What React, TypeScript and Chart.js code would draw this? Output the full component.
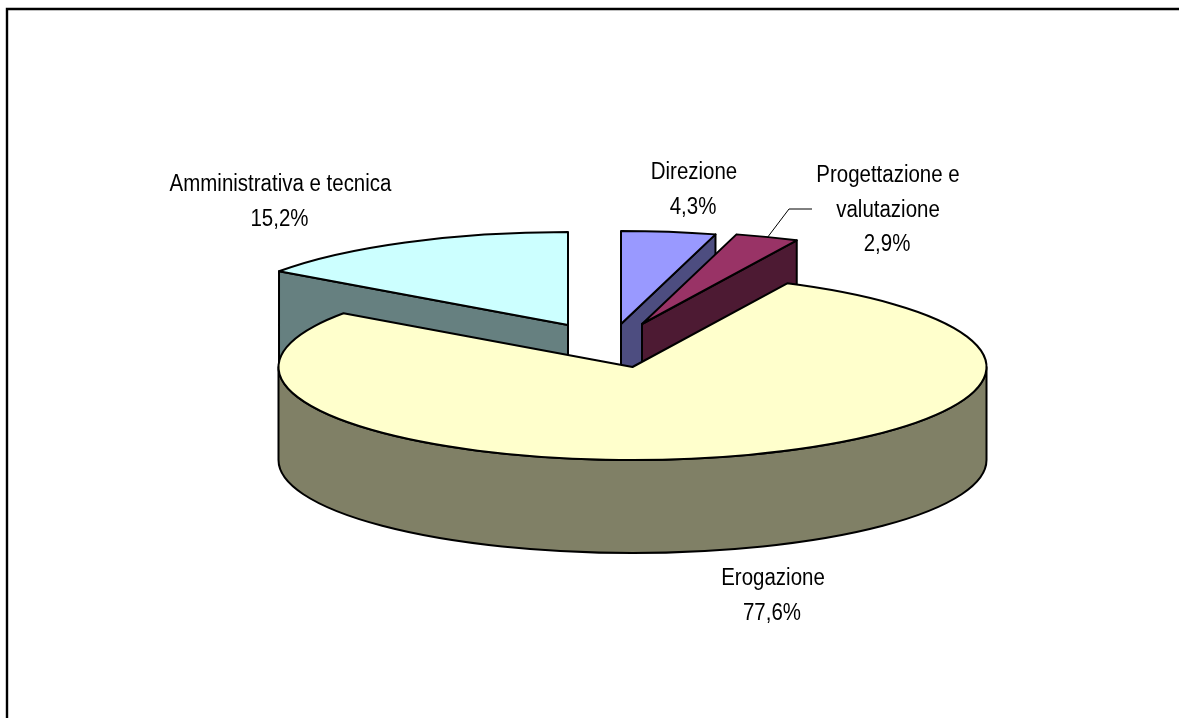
import React, { useEffect, useRef } from "react";
import Chart from "chart.js/auto";

const categories = ["Direzione", "Progettazione e valutazione", "Erogazione", "Amministrativa e tecnica"];
const shares = [4.3, 2.9, 77.6, 15.2];
const percentLabels = ["4,3%", "2,9%", "77,6%", "15,2%"];
const topColors = ["#9999FF", "#993366", "#FFFFCC", "#CCFFFF"];
const wallColors = ["#4D4D80", "#4D1A33", "#808066", "#668080"];

const labelLines = [["Direzione"], ["Progettazione e", "valutazione"], ["Erogazione"], ["Amministrativa e tecnica"]];
const labelAnchors = [[694, 179, 35], [888, 182, 34.5], [773, 585, 35], [280.5, 191, 35]];
const explodeShift = [[-11.5, -43], [9.5, -43], [0, 0], [-64.5, -42]];
const drawOrder = [3, 0, 1, 2];
const tilt = 93 / 354;
const depth = 93;
const leader = [[767, 238], [789, 209], [812, 209]];
const textSqueeze = 0.89;

const pie3d = {
  id: "pie3d",
  beforeDatasetsDraw(chart: any) {
    const ctx = chart.ctx;
    const arcs = chart.getDatasetMeta(0).data;
    ctx.save();
    ctx.lineWidth = 2;
    ctx.lineJoin = "round";
    ctx.strokeStyle = "#000";
    for (const i of drawOrder) {
      const arc = arcs[i];
      const r = arc.outerRadius;
      const ry = r * tilt;
      const cx = arc.x + explodeShift[i][0];
      const cy = arc.y + explodeShift[i][1];
      const s = arc.startAngle;
      const e = arc.endAngle;
      const pt = (a: number) => [cx + r * Math.cos(a), cy + ry * Math.sin(a)];
      const face = (a: number) => {
        const p = pt(a);
        ctx.beginPath();
        ctx.moveTo(cx, cy);
        ctx.lineTo(p[0], p[1]);
        ctx.lineTo(p[0], p[1] + depth);
        ctx.lineTo(cx, cy + depth);
        ctx.closePath();
        ctx.fillStyle = wallColors[i];
        ctx.fill();
        ctx.stroke();
      };
      if (Math.cos(s) < -1e-6) face(s);
      if (Math.cos(e) > 1e-6) face(e);
      const w0 = Math.max(s, 0);
      const w1 = Math.min(e, Math.PI);
      if (w1 > w0) {
        ctx.beginPath();
        ctx.ellipse(cx, cy, r, ry, 0, w0, w1);
        ctx.ellipse(cx, cy + depth, r, ry, 0, w1, w0, true);
        ctx.closePath();
        ctx.fillStyle = wallColors[i];
        ctx.fill();
        ctx.stroke();
      }
      ctx.beginPath();
      ctx.moveTo(cx, cy);
      ctx.ellipse(cx, cy, r, ry, 0, s, e);
      ctx.closePath();
      ctx.fillStyle = topColors[i];
      ctx.fill();
      ctx.stroke();
    }
    ctx.restore();
    return false;
  },
  afterDraw(chart: any) {
    const ctx = chart.ctx;
    ctx.save();
    ctx.strokeStyle = "#000";
    ctx.lineWidth = 1;
    ctx.beginPath();
    leader.forEach((p, k) => (k ? ctx.lineTo(p[0], p[1]) : ctx.moveTo(p[0], p[1])));
    ctx.stroke();
    ctx.fillStyle = "#000";
    ctx.font = '23px "Liberation Sans", Arial, sans-serif';
    ctx.textAlign = "center";
    ctx.textBaseline = "alphabetic";
    const put = (t: string, x: number, y: number) => {
      ctx.save();
      ctx.translate(x, y);
      ctx.scale(textSqueeze, 1);
      ctx.fillText(t, 0, 0);
      ctx.restore();
    };
    labelLines.forEach((lines, i) => {
      const [x, y, step] = labelAnchors[i];
      lines.forEach((t, k) => put(t, x, y + k * step));
      put(percentLabels[i], x - 1, y + lines.length * step);
    });
    // chart frame: only the top and left edges fall inside the picture
    ctx.lineWidth = 2.4;
    ctx.beginPath();
    ctx.moveTo(7, 718);
    ctx.lineTo(7, 9);
    ctx.lineTo(1179, 9);
    ctx.stroke();
    ctx.restore();
  },
};

export default function App() {
  const ref = useRef<HTMLCanvasElement>(null);
  useEffect(() => {
    const chart = new Chart(ref.current!, {
      type: "pie",
      data: {
        labels: categories,
        datasets: [{ data: shares, backgroundColor: topColors, borderWidth: 0 }],
      },
      options: {
        responsive: false,
        animation: false,
        radius: 354,
        layout: { padding: { left: 86, top: 16 } },
        plugins: {
          legend: { display: false },
          tooltip: { enabled: false },
          title: { display: false },
        },
      } as any,
      plugins: [pie3d],
    });
    return () => chart.destroy();
  }, []);
  return (
    <canvas
      ref={ref}
      width={1179}
      height={718}
      style={{ position: "absolute", left: 0, top: 0, width: 1179, height: 718, background: "#fff" }}
    />
  );
}
